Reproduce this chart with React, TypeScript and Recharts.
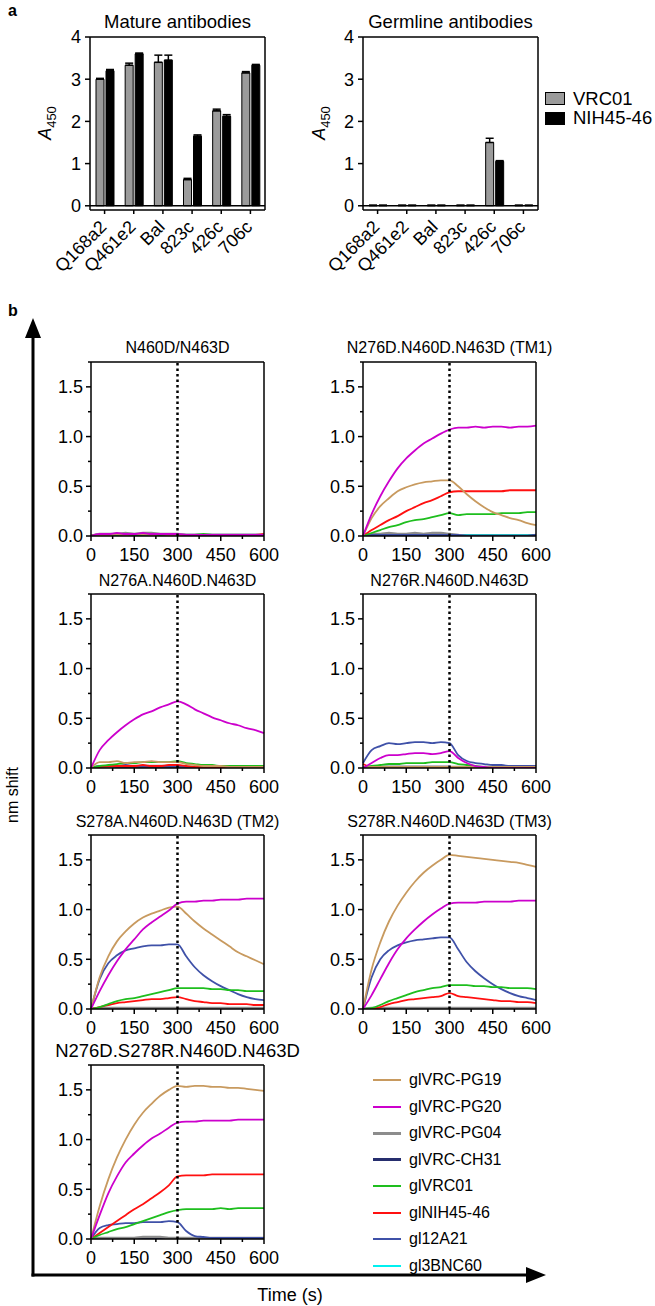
import React from "react";
import { BarChart, Bar, ErrorBar, LineChart, Line, XAxis, YAxis, ReferenceLine } from "recharts";

const FONT = '"Liberation Sans", Arial, Helvetica, sans-serif';

// ---------- panel a : ELISA ----------
const ANTIGENS = ["Q168a2", "Q461e2", "Bal", "823c", "426c", "706c"];
const MATURE_VRC01 = [3.0, 3.33, 3.4, 0.62, 2.25, 3.15];
const MATURE_VRC01_ERR = [0.02, 0.05, 0.17, 0.03, 0.04, 0.03];
const MATURE_NIH = [3.2, 3.6, 3.45, 1.65, 2.12, 3.33];
const MATURE_NIH_ERR = [0.03, 0.02, 0.12, 0.03, 0.04, 0.02];
const GERM_VRC01 = [0.01, 0.01, 0.01, 0.01, 1.5, 0.01];
const GERM_VRC01_ERR = [0, 0, 0, 0, 0.1, 0];
const GERM_NIH = [0.01, 0.01, 0.01, 0.01, 1.05, 0.01];
const GERM_NIH_ERR = [0, 0, 0, 0, 0.02, 0];
const A_TICKS = [0, 1, 2, 3, 4];

const BAR_SERIES = [
  { key: "vrc", name: "VRC01", fill: "#9b9b9b" },
  { key: "nih", name: "NIH45-46", fill: "#000000" },
];

// ---------- panel b : BLI kinetics ----------
const TIME = [0, 30, 60, 90, 120, 150, 180, 210, 240, 270, 300, 330, 360, 390, 420, 450, 480, 510, 540, 570, 600];
const X_TICKS = [0, 75, 150, 225, 300, 375, 450, 525, 600];
const Y_TICKS = [0, 0.25, 0.5, 0.75, 1, 1.25, 1.5, 1.75];

const SERIES = [
  { key: "PG19", name: "glVRC-PG19", color: "#c89a5f", w: 1.8 },
  { key: "PG20", name: "glVRC-PG20", color: "#cc00cc", w: 1.8 },
  { key: "PG04", name: "glVRC-PG04", color: "#8c8c8c", w: 2.4 },
  { key: "CH31", name: "glVRC-CH31", color: "#262e6e", w: 2.4 },
  { key: "VRC01", name: "glVRC01", color: "#1ebe1e", w: 1.8 },
  { key: "NIH", name: "glNIH45-46", color: "#ff1010", w: 1.8 },
  { key: "A21", name: "gl12A21", color: "#3f51a8", w: 1.8 },
  { key: "BNC60", name: "gl3BNC60", color: "#00f0f0", w: 1.8 },
];
const DRAW_ORDER = ["BNC60", "CH31", "PG04", "A21", "NIH", "VRC01", "PG19", "PG20"];

const P_N460D = {
  PG19: [0, 0.01, 0.01, 0.02, 0.01, 0.02, 0.02, 0.01, 0.02, 0.01, 0.01, 0.01, 0.01, 0.01, 0.01, 0.01, 0.01, 0.01, 0.01, 0.01, 0.01],
  PG20: [0, 0.02, 0.02, 0.03, 0.02, 0.02, 0.03, 0.02, 0.02, 0.02, 0.02, 0.01, 0.01, 0.01, 0.01, 0.01, 0.01, 0.01, 0.01, 0.01, 0.01],
  PG04: [0, 0.02, 0.02, 0.02, 0.03, 0.02, 0.03, 0.03, 0.02, 0.02, 0.02, 0.01, 0.01, 0.01, 0.01, 0.01, 0.01, 0.01, 0.01, 0.01, 0.01],
  CH31: [0, 0.01, 0.01, 0.01, 0.01, 0.01, 0.01, 0.01, 0.01, 0.01, 0.01, 0.01, 0.01, 0.01, 0.01, 0.01, 0.01, 0.01, 0.01, 0.01, 0.01],
  VRC01: [0, 0.01, 0.01, 0.01, 0.01, 0.01, 0.01, 0.01, 0.01, 0.01, 0.01, 0.01, 0.01, 0.02, 0.01, 0.01, 0.01, 0.01, 0.01, 0.01, 0.01],
  NIH: [0, 0.01, 0.01, 0.01, 0.01, 0.01, 0.01, 0.01, 0.01, 0.01, 0.01, 0.01, 0.01, 0.01, 0.01, 0.01, 0.01, 0.01, 0.01, 0.01, 0.02],
  A21: [0, 0.01, 0.01, 0.01, 0.01, 0.01, 0.01, 0.01, 0.01, 0.01, 0.01, 0.01, 0.01, 0.01, 0.01, 0.01, 0.01, 0.01, 0.01, 0.01, 0.01],
  BNC60: [0, 0, 0, 0, 0, 0, 0, 0, 0, 0, 0, 0, 0, 0, 0, 0, 0, 0, 0, 0, 0],
};

const P_TM1 = {
  PG19: [0, 0.18, 0.30, 0.38, 0.45, 0.49, 0.52, 0.54, 0.55, 0.56, 0.56, 0.50, 0.42, 0.35, 0.29, 0.24, 0.21, 0.18, 0.16, 0.13, 0.11],
  PG20: [0, 0.22, 0.40, 0.55, 0.68, 0.78, 0.86, 0.93, 0.98, 1.03, 1.07, 1.09, 1.09, 1.10, 1.09, 1.10, 1.10, 1.09, 1.10, 1.10, 1.11],
  PG04: [0, 0.02, 0.02, 0.03, 0.02, 0.02, 0.03, 0.02, 0.03, 0.03, 0.02, 0.01, 0, 0, 0, 0, 0, 0, 0, 0, 0],
  CH31: [0, 0.01, 0.01, 0.01, 0.01, 0.01, 0.01, 0.01, 0.01, 0.01, 0.01, 0, 0, 0, 0, 0, 0, 0, 0, 0, 0.01],
  VRC01: [0, 0.03, 0.06, 0.09, 0.11, 0.14, 0.16, 0.17, 0.19, 0.21, 0.23, 0.21, 0.22, 0.22, 0.22, 0.22, 0.23, 0.23, 0.23, 0.24, 0.24],
  NIH: [0, 0.06, 0.11, 0.16, 0.20, 0.25, 0.29, 0.33, 0.36, 0.40, 0.44, 0.45, 0.45, 0.45, 0.45, 0.45, 0.45, 0.46, 0.46, 0.46, 0.46],
  A21: [0, 0.01, 0.01, 0.01, 0.01, 0.01, 0.01, 0.01, 0.01, 0.01, 0.01, 0.01, 0, 0, 0, 0, 0, 0, 0, 0, 0.01],
  BNC60: [0, 0.01, 0.01, 0.01, 0.01, 0.01, 0.01, 0.01, 0.01, 0.01, 0.01, 0.01, 0.01, 0.01, 0.01, 0.01, 0.01, 0.01, 0.01, 0.01, 0.01],
};

const P_N276A = {
  PG19: [0, 0.06, 0.06, 0.07, 0.05, 0.06, 0.06, 0.07, 0.06, 0.06, 0.06, 0.04, 0.03, 0.02, 0.02, 0.02, 0.01, 0.01, 0.01, 0.01, 0.01],
  PG20: [0, 0.18, 0.28, 0.36, 0.43, 0.49, 0.54, 0.57, 0.61, 0.64, 0.67, 0.64, 0.59, 0.55, 0.51, 0.48, 0.45, 0.43, 0.40, 0.38, 0.35],
  PG04: [0, 0.01, 0.01, 0.02, 0.02, 0.02, 0.02, 0.02, 0.02, 0.02, 0.02, 0.01, 0.01, 0.01, 0.01, 0.01, 0.01, 0.01, 0.01, 0.01, 0.01],
  CH31: [0, 0.01, 0.01, 0.01, 0.01, 0.01, 0.01, 0.01, 0.01, 0.01, 0.01, 0.01, 0.01, 0.01, 0.01, 0.01, 0.01, 0.01, 0.01, 0.01, 0.01],
  VRC01: [0, 0.02, 0.03, 0.04, 0.05, 0.05, 0.06, 0.06, 0.06, 0.06, 0.07, 0.05, 0.04, 0.03, 0.03, 0.02, 0.02, 0.02, 0.02, 0.02, 0.02],
  NIH: [0, 0.01, 0.02, 0.02, 0.02, 0.02, 0.03, 0.02, 0.02, 0.03, 0.03, 0.02, 0.01, 0.01, 0.01, 0.01, 0.01, 0.01, 0.01, 0.01, 0.01],
  A21: [0, 0.02, 0.02, 0.02, 0.03, 0.02, 0.02, 0.02, 0.02, 0.02, 0.02, 0.01, 0.01, 0.01, 0.01, 0.01, 0.01, 0.01, 0.01, 0.01, 0.01],
  BNC60: [0, 0, 0, 0, 0, 0, 0, 0, 0, 0, 0, 0, 0, 0, 0, 0, 0, 0, 0, 0, 0],
};

const P_N276R = {
  PG19: [0, 0.01, 0.01, 0.01, 0.01, 0.01, 0.01, 0.01, 0.01, 0.01, 0.01, 0.01, 0.01, 0.01, 0.01, 0.01, 0.01, 0.01, 0.01, 0.01, 0.01],
  PG20: [0, 0.05, 0.10, 0.13, 0.13, 0.14, 0.15, 0.15, 0.14, 0.15, 0.17, 0.10, 0.05, 0.02, 0.01, 0, 0, 0, 0, 0, 0],
  PG04: [0, 0.01, 0.01, 0.01, 0.01, 0.01, 0.01, 0.01, 0.01, 0.01, 0.01, 0.01, 0.01, 0.01, 0.01, 0.01, 0.01, 0.01, 0.01, 0.01, 0.01],
  CH31: [0, 0.01, 0.01, 0.01, 0.01, 0.01, 0.01, 0.01, 0.01, 0.01, 0.01, 0, 0, 0, 0, 0, 0, 0, 0, 0, 0],
  VRC01: [0, 0.02, 0.03, 0.04, 0.04, 0.05, 0.05, 0.05, 0.06, 0.06, 0.06, 0.04, 0.03, 0.02, 0.01, 0.01, 0.01, 0.01, 0.01, 0.01, 0.01],
  NIH: [0.04, 0.01, 0.01, 0.01, 0.01, 0.01, 0.01, 0.01, 0.01, 0.01, 0.01, 0, 0, 0, 0, 0, 0, 0, 0, 0, 0],
  A21: [0.05, 0.18, 0.22, 0.25, 0.24, 0.25, 0.26, 0.26, 0.25, 0.26, 0.25, 0.13, 0.07, 0.05, 0.04, 0.03, 0.03, 0.02, 0.02, 0.02, 0.02],
  BNC60: [0, 0, 0, 0, 0, 0, 0, 0, 0, 0, 0, 0, 0, 0, 0, 0, 0, 0, 0, 0, 0],
};

const P_TM2 = {
  PG19: [0, 0.32, 0.53, 0.68, 0.78, 0.86, 0.92, 0.96, 0.99, 1.02, 1.03, 0.96, 0.88, 0.81, 0.75, 0.69, 0.63, 0.57, 0.53, 0.49, 0.45],
  PG20: [0, 0.18, 0.34, 0.48, 0.60, 0.70, 0.80, 0.87, 0.93, 0.99, 1.06, 1.08, 1.08, 1.09, 1.09, 1.10, 1.10, 1.10, 1.11, 1.11, 1.11],
  PG04: [0, 0.01, 0.01, 0.01, 0.01, 0.01, 0.01, 0.01, 0.01, 0.01, 0.01, 0.01, 0.01, 0.01, 0.01, 0.01, 0.01, 0.01, 0.01, 0.01, 0.01],
  CH31: [0, 0, 0, 0, 0, 0, 0, 0, 0, 0, 0, 0, 0, 0, 0, 0, 0, 0, 0, 0, 0],
  VRC01: [0, 0.02, 0.05, 0.08, 0.10, 0.11, 0.13, 0.15, 0.17, 0.19, 0.21, 0.21, 0.21, 0.21, 0.20, 0.20, 0.19, 0.19, 0.18, 0.18, 0.18],
  NIH: [0, 0.02, 0.04, 0.06, 0.07, 0.08, 0.09, 0.10, 0.10, 0.11, 0.12, 0.10, 0.08, 0.07, 0.06, 0.06, 0.05, 0.05, 0.05, 0.04, 0.04],
  A21: [0, 0.30, 0.46, 0.54, 0.59, 0.61, 0.63, 0.64, 0.64, 0.65, 0.65, 0.53, 0.42, 0.34, 0.28, 0.23, 0.19, 0.15, 0.12, 0.10, 0.09],
  BNC60: [0, 0, 0, 0, 0, 0, 0, 0, 0, 0, 0, 0, 0, 0, 0, 0, 0, 0, 0, 0, 0],
};

const P_TM3 = {
  PG19: [0, 0.40, 0.67, 0.88, 1.04, 1.17, 1.28, 1.37, 1.44, 1.50, 1.55, 1.54, 1.53, 1.52, 1.51, 1.50, 1.49, 1.48, 1.47, 1.45, 1.43],
  PG20: [0, 0.14, 0.30, 0.46, 0.60, 0.71, 0.80, 0.88, 0.95, 1.01, 1.06, 1.07, 1.07, 1.07, 1.08, 1.08, 1.08, 1.08, 1.09, 1.09, 1.09],
  PG04: [0, 0.01, 0.01, 0.01, 0.01, 0.01, 0.01, 0.01, 0.01, 0.01, 0.01, 0.01, 0.01, 0.01, 0.01, 0.01, 0.01, 0.01, 0.01, 0.01, 0.01],
  CH31: [0, 0, 0, 0, 0, 0, 0, 0, 0, 0, 0, 0, 0, 0, 0, 0, 0, 0, 0, 0, 0],
  VRC01: [0, 0.01, 0.04, 0.08, 0.11, 0.14, 0.17, 0.19, 0.21, 0.22, 0.24, 0.24, 0.24, 0.23, 0.23, 0.22, 0.22, 0.21, 0.21, 0.21, 0.20],
  NIH: [0, 0, 0.02, 0.05, 0.07, 0.09, 0.10, 0.11, 0.12, 0.13, 0.16, 0.13, 0.12, 0.11, 0.10, 0.09, 0.08, 0.08, 0.07, 0.07, 0.06],
  A21: [0, 0.32, 0.50, 0.59, 0.64, 0.67, 0.69, 0.70, 0.71, 0.72, 0.72, 0.60, 0.47, 0.38, 0.31, 0.25, 0.20, 0.16, 0.13, 0.11, 0.09],
  BNC60: [0, 0, 0, 0, 0, 0, 0, 0, 0, 0, 0, 0, 0, 0, 0, 0, 0, 0, 0, 0, 0],
};

const P_N276D_S278R = {
  PG19: [0, 0.33, 0.60, 0.82, 1.00, 1.15, 1.27, 1.36, 1.44, 1.50, 1.54, 1.53, 1.54, 1.54, 1.53, 1.53, 1.52, 1.52, 1.51, 1.50, 1.49],
  PG20: [0, 0.24, 0.46, 0.63, 0.77, 0.86, 0.94, 1.01, 1.06, 1.12, 1.17, 1.18, 1.18, 1.19, 1.19, 1.19, 1.19, 1.20, 1.20, 1.20, 1.20],
  PG04: [0, 0.01, 0.01, 0.01, 0.01, 0.01, 0.02, 0.02, 0.02, 0.01, 0.01, 0.01, 0.01, 0.01, 0.01, 0.01, 0.01, 0.01, 0.01, 0.01, 0.01],
  CH31: [0, 0, 0, 0, 0, 0, 0, 0, 0, 0, 0, 0, 0, 0, 0, 0, 0, 0, 0, 0, 0],
  VRC01: [0, 0.04, 0.07, 0.10, 0.12, 0.15, 0.18, 0.21, 0.24, 0.27, 0.29, 0.30, 0.30, 0.30, 0.30, 0.31, 0.30, 0.31, 0.31, 0.31, 0.31],
  NIH: [0, 0.06, 0.12, 0.18, 0.24, 0.30, 0.35, 0.41, 0.47, 0.54, 0.63, 0.64, 0.64, 0.64, 0.65, 0.65, 0.65, 0.65, 0.65, 0.65, 0.65],
  A21: [0, 0.11, 0.14, 0.15, 0.16, 0.16, 0.17, 0.17, 0.17, 0.18, 0.17, 0.08, 0.03, 0.02, 0.01, 0.01, 0.01, 0.01, 0.01, 0.01, 0.01],
  BNC60: [0, 0, 0, 0, 0, 0, 0, 0, 0, 0, 0, 0, 0, 0, 0, 0, 0, 0, 0, 0, 0],
};

// ---------- helpers ----------
const abs = (left: number, top: number, extra: any = {}) => ({ position: "absolute" as const, left, top, ...extra });
const AXIS_LINE = { stroke: "#000", strokeWidth: 1.5 };

function A450({ x, y }: { x: number; y: number }) {
  return (
    <div style={abs(x, y, { transform: "translate(-50%,-50%) rotate(-90deg)", fontSize: 18, whiteSpace: "nowrap" })}>
      <i>A</i>
      <sub style={{ fontSize: 13 }}>450</sub>
    </div>
  );
}

const CatTick = (p: any) => {
  const x = p.x + 3;
  const y = p.y + 12;
  return (
    <text x={x} y={y} transform={`rotate(-45, ${x}, ${y})`} textAnchor="end" fontSize={18} fill="#000" fontFamily={FONT}>
      {p.payload.value}
    </text>
  );
};

function ElisaChart({ title, vrc, vrcErr, nih, nihErr, plotLeft }: any) {
  const PW = 175, PH = 173, YW = 45, MT = 12, MR = 8, XH = 70;
  const rows = ANTIGENS.map((c, i) => ({ c, vrc: vrc[i], vrcE: [0, vrcErr[i]], nih: nih[i], nihE: [0, nihErr[i]] }));
  return (
    <>
      <div style={abs(plotLeft + PW / 2, 22, { transform: "translate(-50%,-50%)", fontSize: 18.5, whiteSpace: "nowrap" })}>{title}</div>
      <div style={abs(plotLeft - YW, 37 - MT)}>
        <BarChart width={YW + PW + MR} height={MT + PH + XH} data={rows} margin={{ top: MT - 1, right: MR - 1, left: 0, bottom: 0 }} barSize={8} barGap={2}>
          <XAxis dataKey="c" interval={0} height={XH} tickSize={4} tick={<CatTick />} axisLine={AXIS_LINE} tickLine={AXIS_LINE} />
          <XAxis xAxisId="top" orientation="top" dataKey="c" height={1} tick={false} tickLine={false} axisLine={AXIS_LINE} />
          <YAxis domain={[-0.1, 4]} ticks={A_TICKS} interval={0} width={YW} tickSize={5} tickMargin={4} tick={{ fontSize: 18, fill: "#000", fontFamily: FONT }} axisLine={AXIS_LINE} tickLine={AXIS_LINE} allowDataOverflow />
          <YAxis yAxisId="right" orientation="right" domain={[-0.1, 4]} width={1} tick={false} tickLine={false} axisLine={AXIS_LINE} />
          <ReferenceLine y={0} stroke="#000" strokeWidth={1.5} />
          {BAR_SERIES.map((s) => (
            <Bar key={s.key} dataKey={s.key} fill={s.fill} stroke="#000" strokeWidth={1} isAnimationActive={false}>
              <ErrorBar dataKey={s.key + "E"} width={4} stroke="#000" strokeWidth={1.5} direction="y" />
            </Bar>
          ))}
        </BarChart>
      </div>
    </>
  );
}

const YTick = (p: any) => {
  const v = p.payload.value;
  const major = Math.abs(v * 2 - Math.round(v * 2)) < 1e-6;
  return (
    <g>
      <line x1={p.x} x2={p.x - (major ? 5 : 3)} y1={p.y} y2={p.y} stroke="#000" strokeWidth={1.5} />
      {major && (
        <text x={p.x - 8} y={p.y} dy="0.36em" textAnchor="end" fontSize={18} fill="#000" fontFamily={FONT}>
          {v.toFixed(1)}
        </text>
      )}
    </g>
  );
};

const XTick = (p: any) => {
  const v = p.payload.value;
  const major = v % 150 === 0;
  return (
    <g>
      <line x1={p.x} x2={p.x} y1={p.y} y2={p.y + (major ? 5 : 3)} stroke="#000" strokeWidth={1.5} />
      {major && (
        <text x={p.x} y={p.y + 25} textAnchor="middle" fontSize={18} fill="#000" fontFamily={FONT}>
          {v}
        </text>
      )}
    </g>
  );
};

function Kinetics({ title, panel, plotLeft, plotTop, titleY, titleSize = 16 }: any) {
  const PW = 173, PH = 174, YW = 60, MT = 4, MR = 22, XH = 30;
  const rows = TIME.map((t, i) => {
    const r: any = { t };
    SERIES.forEach((s) => (r[s.key] = panel[s.key][i]));
    return r;
  });
  return (
    <>
      <div style={abs(plotLeft + PW / 2, titleY, { transform: "translate(-50%,-50%)", fontSize: titleSize, whiteSpace: "nowrap" })}>{title}</div>
      <div style={abs(plotLeft - YW, plotTop - MT)}>
        <LineChart width={YW + PW + MR} height={MT + PH + XH} data={rows} margin={{ top: MT - 1, right: MR - 1, left: 0, bottom: 0 }}>
          <XAxis dataKey="t" type="number" domain={[0, 600]} ticks={X_TICKS} interval={0} height={XH} tickSize={0} tickMargin={0} tickLine={false} tick={<XTick />} axisLine={AXIS_LINE} />
          <XAxis xAxisId="top" orientation="top" dataKey="t" type="number" domain={[0, 600]} height={1} tick={false} tickLine={false} axisLine={AXIS_LINE} />
          <YAxis domain={[0, 1.75]} ticks={Y_TICKS} interval={0} width={YW} tickSize={0} tickMargin={0} tickLine={false} tick={<YTick />} axisLine={AXIS_LINE} allowDataOverflow />
          <YAxis yAxisId="right" orientation="right" domain={[0, 1.75]} width={1} tick={false} tickLine={false} axisLine={AXIS_LINE} />
          {DRAW_ORDER.map((k) => {
            const s = SERIES.find((q) => q.key === k)!;
            return <Line key={k} dataKey={k} type="monotone" stroke={s.color} strokeWidth={s.w} dot={false} isAnimationActive={false} />;
          })}
          <ReferenceLine x={300} stroke="#000" strokeWidth={2.5} strokeDasharray="2.5 3" />
        </LineChart>
      </div>
    </>
  );
}

export default function App() {
  const L = 91, R = 363;
  return (
    <div style={abs(0, 0, { width: 655, height: 1306, fontFamily: FONT, color: "#000", background: "#fff", overflow: "hidden" })}>
      <div style={abs(8, 2, { fontSize: 16, fontWeight: "bold" })}>a</div>
      <div style={abs(8, 302, { fontSize: 16, fontWeight: "bold" })}>b</div>

      <ElisaChart title="Mature  antibodies" vrc={MATURE_VRC01} vrcErr={MATURE_VRC01_ERR} nih={MATURE_NIH} nihErr={MATURE_NIH_ERR} plotLeft={90} />
      <ElisaChart title="Germline antibodies" vrc={GERM_VRC01} vrcErr={GERM_VRC01_ERR} nih={GERM_NIH} nihErr={GERM_NIH_ERR} plotLeft={363} />
      <A450 x={47} y={123} />
      <A450 x={321} y={123} />

      <div style={abs(545, 89)}>
        {BAR_SERIES.map((s) => (
          <div key={s.key} style={{ display: "flex", alignItems: "center", height: 19.5 }}>
            <div style={{ width: 18, height: 11, background: s.fill, border: "1px solid #000", marginRight: 8 }} />
            <span style={{ fontSize: 18.5 }}>{s.name}</span>
          </div>
        ))}
      </div>

      <Kinetics title="N460D/N463D" panel={P_N460D} plotLeft={L} plotTop={362} titleY={348} />
      <Kinetics title="N276D.N460D.N463D (TM1)" panel={P_TM1} plotLeft={R} plotTop={362} titleY={348} />
      <Kinetics title="N276A.N460D.N463D" panel={P_N276A} plotLeft={L} plotTop={594} titleY={581} />
      <Kinetics title="N276R.N460D.N463D" panel={P_N276R} plotLeft={R} plotTop={594} titleY={581} />
      <Kinetics title="S278A.N460D.N463D (TM2)" panel={P_TM2} plotLeft={L} plotTop={835} titleY={822} />
      <Kinetics title="S278R.N460D.N463D (TM3)" panel={P_TM3} plotLeft={R} plotTop={835} titleY={822} />
      <Kinetics title="N276D.S278R.N460D.N463D" panel={P_N276D_S278R} plotLeft={L} plotTop={1065} titleY={1051} titleSize={18.5} />

      <div style={abs(373, 1067)}>
        {SERIES.map((s) => (
          <div key={s.key} style={{ display: "flex", alignItems: "center", height: 26.5 }}>
            <div style={{ width: 28, height: s.w > 2 ? 3 : 2, background: s.color, marginRight: 8 }} />
            <span style={{ fontSize: 16 }}>{s.name}</span>
          </div>
        ))}
      </div>

      <svg width={655} height={1306} style={abs(0, 0, { pointerEvents: "none" })}>
        <line x1={33} y1={336} x2={33} y2={1276.5} stroke="#000" strokeWidth={3} />
        <polygon points="33,318 25,338 41,338" fill="#000" />
        <line x1={31.5} y1={1275} x2={528} y2={1275} stroke="#000" strokeWidth={3} />
        <polygon points="546,1275 526,1267 526,1283" fill="#000" />
      </svg>
      <div style={abs(13, 795, { transform: "translate(-50%,-50%) rotate(-90deg)", fontSize: 16, whiteSpace: "nowrap" })}>nm shift</div>
      <div style={abs(290, 1295, { transform: "translate(-50%,-50%)", fontSize: 18, whiteSpace: "nowrap" })}>Time (s)</div>
    </div>
  );
}
